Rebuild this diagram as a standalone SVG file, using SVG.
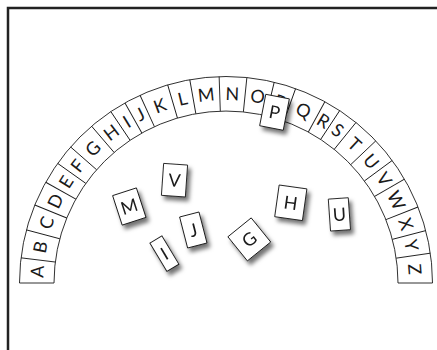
<svg xmlns="http://www.w3.org/2000/svg" width="437" height="350" viewBox="0 0 437 350">
<defs>
<filter id="sh" x="-50%" y="-50%" width="200%" height="200%">
<feDropShadow dx="3" dy="4" stdDeviation="2.2" flood-color="#000" flood-opacity="0.55"/>
</filter>
<style>
.ln{stroke:#1a1a1a;stroke-width:0.9;fill:none}
.t{font-family:Lato,"DejaVu Sans",sans-serif;font-size:18px;fill:#1a1a1a;text-anchor:middle}
.tile{fill:#fff;stroke:#1a1a1a;stroke-width:0.9}
</style>
</defs>
<rect width="437" height="350" fill="#fff"/>
<path d="M8,351 V8 H438" fill="none" stroke="#222" stroke-width="2.5"/>
<g id="arch">
<path class="ln" d="M19.5,283 A206.5,206.5 0 0 1 432.5,283 M54,283 A172,172 0 0 1 398,283"/>
<g id="dividers">
<line class="ln" x1="226" y1="111" x2="226" y2="76.5" transform="rotate(-90 226 283)"/>
<line class="ln" x1="226" y1="111" x2="226" y2="76.5" transform="rotate(-83 226 283)"/>
<line class="ln" x1="226" y1="111" x2="226" y2="76.5" transform="rotate(-75.1 226 283)"/>
<line class="ln" x1="226" y1="111" x2="226" y2="76.5" transform="rotate(-67.8 226 283)"/>
<line class="ln" x1="226" y1="111" x2="226" y2="76.5" transform="rotate(-60.8 226 283)"/>
<line class="ln" x1="226" y1="111" x2="226" y2="76.5" transform="rotate(-54.6 226 283)"/>
<line class="ln" x1="226" y1="111" x2="226" y2="76.5" transform="rotate(-48.8 226 283)"/>
<line class="ln" x1="226" y1="111" x2="226" y2="76.5" transform="rotate(-40.6 226 283)"/>
<line class="ln" x1="226" y1="111" x2="226" y2="76.5" transform="rotate(-33.9 226 283)"/>
<line class="ln" x1="226" y1="111" x2="226" y2="76.5" transform="rotate(-29.3 226 283)"/>
<line class="ln" x1="226" y1="111" x2="226" y2="76.5" transform="rotate(-24.6 226 283)"/>
<line class="ln" x1="226" y1="111" x2="226" y2="76.5" transform="rotate(-16.4 226 283)"/>
<line class="ln" x1="226" y1="111" x2="226" y2="76.5" transform="rotate(-10.1 226 283)"/>
<line class="ln" x1="226" y1="111" x2="226" y2="76.5" transform="rotate(-1.9 226 283)"/>
<line class="ln" x1="226" y1="111" x2="226" y2="76.5" transform="rotate(5.8 226 283)"/>
<line class="ln" x1="226" y1="111" x2="226" y2="76.5" transform="rotate(13.5 226 283)"/>
<line class="ln" x1="226" y1="111" x2="226" y2="76.5" transform="rotate(19.7 226 283)"/>
<line class="ln" x1="226" y1="111" x2="226" y2="76.5" transform="rotate(28.6 226 283)"/>
<line class="ln" x1="226" y1="111" x2="226" y2="76.5" transform="rotate(33.4 226 283)"/>
<line class="ln" x1="226" y1="111" x2="226" y2="76.5" transform="rotate(39 226 283)"/>
<line class="ln" x1="226" y1="111" x2="226" y2="76.5" transform="rotate(46.5 226 283)"/>
<line class="ln" x1="226" y1="111" x2="226" y2="76.5" transform="rotate(53.6 226 283)"/>
<line class="ln" x1="226" y1="111" x2="226" y2="76.5" transform="rotate(59.8 226 283)"/>
<line class="ln" x1="226" y1="111" x2="226" y2="76.5" transform="rotate(68.4 226 283)"/>
<line class="ln" x1="226" y1="111" x2="226" y2="76.5" transform="rotate(75.3 226 283)"/>
<line class="ln" x1="226" y1="111" x2="226" y2="76.5" transform="rotate(81.7 226 283)"/>
<line class="ln" x1="226" y1="111" x2="226" y2="76.5" transform="rotate(90 226 283)"/>
</g>
<g id="letters">
<text class="t" x="226" y="100.2" transform="rotate(-86.5 226 283)">A</text>
<text class="t" x="226" y="100.2" transform="rotate(-79.05 226 283)">B</text>
<text class="t" x="226" y="100.2" transform="rotate(-71.45 226 283)">C</text>
<text class="t" x="226" y="100.2" transform="rotate(-64.3 226 283)">D</text>
<text class="t" x="226" y="100.2" transform="rotate(-57.7 226 283)">E</text>
<text class="t" x="226" y="100.2" transform="rotate(-51.7 226 283)">F</text>
<text class="t" x="226" y="100.2" transform="rotate(-44.7 226 283)">G</text>
<text class="t" x="226" y="100.2" transform="rotate(-37.25 226 283)">H</text>
<text class="t" x="226" y="100.2" transform="rotate(-31.6 226 283)">I</text>
<text class="t" x="226" y="100.2" transform="rotate(-26.95 226 283)">J</text>
<text class="t" x="226" y="100.2" transform="rotate(-20.5 226 283)">K</text>
<text class="t" x="226" y="100.2" transform="rotate(-13.25 226 283)">L</text>
<text class="t" x="226" y="100.2" transform="rotate(-6 226 283)">M</text>
<text class="t" x="226" y="100.2" transform="rotate(1.95 226 283)">N</text>
<text class="t" x="226" y="100.2" transform="rotate(9.65 226 283)">O</text>
<text class="t" x="226" y="100.2" transform="rotate(16.6 226 283)">P</text>
<text class="t" x="226" y="100.2" transform="rotate(24.15 226 283)">Q</text>
<text class="t" x="226" y="100.2" transform="rotate(31 226 283)">R</text>
<text class="t" x="226" y="100.2" transform="rotate(36.2 226 283)">S</text>
<text class="t" x="226" y="100.2" transform="rotate(42.75 226 283)">T</text>
<text class="t" x="226" y="100.2" transform="rotate(50.05 226 283)">U</text>
<text class="t" x="226" y="100.2" transform="rotate(56.7 226 283)">V</text>
<text class="t" x="226" y="100.2" transform="rotate(64.1 226 283)">W</text>
<text class="t" x="226" y="100.2" transform="rotate(71.85 226 283)">X</text>
<text class="t" x="226" y="100.2" transform="rotate(78.5 226 283)">Y</text>
<text class="t" x="226" y="100.2" transform="rotate(85.85 226 283)">Z</text>
</g>
</g>
<g id="tile-P" filter="url(#sh)"><g transform="translate(274.5 112.3) rotate(11)"><rect class="tile" x="-12" y="-16" width="24" height="32"/><text class="t" x="0" y="6.4">P</text></g></g>
<g id="tile-M" filter="url(#sh)"><g transform="translate(129.3 206.5) rotate(-18)"><rect class="tile" x="-12.5" y="-15.5" width="25" height="31"/><text class="t" x="0" y="6.4">M</text></g></g>
<g id="tile-V" filter="url(#sh)"><g transform="translate(174.5 180.2) rotate(4)"><rect class="tile" x="-12" y="-16" width="24" height="32"/><text class="t" x="0" y="6.4">V</text></g></g>
<g id="tile-J" filter="url(#sh)"><g transform="translate(193.3 230) rotate(-14.5)"><rect class="tile" x="-10" y="-16" width="20" height="32"/><text class="t" x="0" y="6.4">J</text></g></g>
<g id="tile-I" filter="url(#sh)"><g transform="translate(164.4 253.7) rotate(-31)"><rect class="tile" x="-7" y="-16.5" width="14" height="33"/><text class="t" x="0" y="6.4">I</text></g></g>
<g id="tile-G" filter="url(#sh)"><g transform="translate(249.3 239.4) rotate(-39)"><rect class="tile" x="-15" y="-15.5" width="30" height="31"/><text class="t" x="0" y="6.4">G</text></g></g>
<g id="tile-H" filter="url(#sh)"><g transform="translate(290.8 202.8) rotate(8)"><rect class="tile" x="-14" y="-16" width="28" height="32"/><text class="t" x="0" y="6.4">H</text></g></g>
<g id="tile-U" filter="url(#sh)"><g transform="translate(339.4 214.4) rotate(-4)"><rect class="tile" x="-10" y="-16" width="20" height="32"/><text class="t" x="0" y="6.4">U</text></g></g>
</svg>
